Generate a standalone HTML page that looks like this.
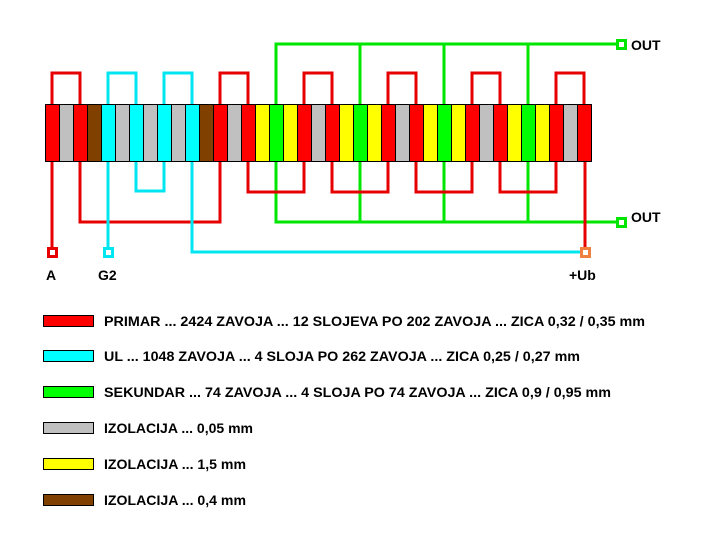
<!DOCTYPE html>
<html><head><style>body{margin:0;background:#fff}svg{display:block}</style></head><body>
<svg width="720" height="550" xmlns="http://www.w3.org/2000/svg" font-family="Liberation Sans, Arial, sans-serif">
<g fill="none" stroke-width="3">
<g stroke="#00e600">
<polyline points="276,104 276,44 618,44"/>
<line x1="360" y1="44" x2="360" y2="104"/><line x1="444" y1="44" x2="444" y2="104"/><line x1="528" y1="44" x2="528" y2="104"/>
<polyline points="276,162 276,222 618,222"/>
<line x1="360" y1="162" x2="360" y2="222"/><line x1="444" y1="162" x2="444" y2="222"/><line x1="528" y1="162" x2="528" y2="222"/>
</g>
<g stroke="#e60000">
<polyline points="52,104 52,73 80,73 80,104"/>
<polyline points="220,104 220,73 248,73 248,104"/>
<polyline points="304,104 304,73 332,73 332,104"/>
<polyline points="388,104 388,73 416,73 416,104"/>
<polyline points="472,104 472,73 500,73 500,104"/>
<polyline points="556,104 556,73 584,73 584,104"/>
<polyline points="248,162 248,192 304,192 304,162"/>
<polyline points="332,162 332,192 388,192 388,162"/>
<polyline points="416,162 416,192 472,192 472,162"/>
<polyline points="500,162 500,192 556,192 556,162"/>
<polyline points="80,162 80,222 220,222 220,162"/>
<line x1="52" y1="162" x2="52" y2="248"/>
<line x1="585" y1="162" x2="585" y2="248"/>
</g>
<g stroke="#00e6f0">
<polyline points="108,104 108,73 136,73 136,104"/>
<polyline points="164,104 164,73 192,73 192,104"/>
<polyline points="136,162 136,191 164,191 164,162"/>
<polyline points="192,162 192,252 582,252"/>
<line x1="108" y1="162" x2="108" y2="248"/>
</g>
<rect x="48.5" y="248.5" width="8" height="8" stroke="#e60000"/>
<rect x="104.5" y="248.5" width="8" height="8" stroke="#00e6f0"/>
<rect x="581.5" y="248.5" width="8" height="8" stroke="#f08040"/>
<rect x="617.5" y="40.5" width="8" height="8" stroke="#00e600"/>
<rect x="617.5" y="218.5" width="8" height="8" stroke="#00e600"/>
</g>
<g stroke="#000" stroke-width="1">
<rect x="45.5" y="104.5" width="14" height="57" fill="#ff0000"/>
<rect x="59.5" y="104.5" width="14" height="57" fill="#c0c0c0"/>
<rect x="73.5" y="104.5" width="14" height="57" fill="#ff0000"/>
<rect x="87.5" y="104.5" width="14" height="57" fill="#804000"/>
<rect x="101.5" y="104.5" width="14" height="57" fill="#00ffff"/>
<rect x="115.5" y="104.5" width="14" height="57" fill="#c0c0c0"/>
<rect x="129.5" y="104.5" width="14" height="57" fill="#00ffff"/>
<rect x="143.5" y="104.5" width="14" height="57" fill="#c0c0c0"/>
<rect x="157.5" y="104.5" width="14" height="57" fill="#00ffff"/>
<rect x="171.5" y="104.5" width="14" height="57" fill="#c0c0c0"/>
<rect x="185.5" y="104.5" width="14" height="57" fill="#00ffff"/>
<rect x="199.5" y="104.5" width="14" height="57" fill="#804000"/>
<rect x="213.5" y="104.5" width="14" height="57" fill="#ff0000"/>
<rect x="227.5" y="104.5" width="14" height="57" fill="#c0c0c0"/>
<rect x="241.5" y="104.5" width="14" height="57" fill="#ff0000"/>
<g id="grp">
<rect x="255.5" y="104.5" width="14" height="57" fill="#ffff00"/>
<rect x="269.5" y="104.5" width="14" height="57" fill="#00ff00"/>
<rect x="283.5" y="104.5" width="14" height="57" fill="#ffff00"/>
<rect x="297.5" y="104.5" width="14" height="57" fill="#ff0000"/>
<rect x="311.5" y="104.5" width="14" height="57" fill="#c0c0c0"/>
<rect x="325.5" y="104.5" width="14" height="57" fill="#ff0000"/>
</g>
<use href="#grp" x="84"/><use href="#grp" x="168"/><use href="#grp" x="252"/>
</g>
<g font-size="14" fill="#000" font-weight="bold">
<text x="46" y="280">A</text><text x="98" y="280">G2</text><text x="569" y="280">+Ub</text>
<text x="631" y="50">OUT</text><text x="631" y="222">OUT</text>
</g>
<g stroke="#000" stroke-width="1">
<rect x="43.5" y="315.5" width="50" height="11" fill="#ff0000"/>
<rect x="43.5" y="350.5" width="50" height="11" fill="#00ffff"/>
<rect x="43.5" y="386.5" width="50" height="11" fill="#00ff00"/>
<rect x="43.5" y="422.5" width="50" height="11" fill="#c0c0c0"/>
<rect x="43.5" y="458.5" width="50" height="11" fill="#ffff00"/>
<rect x="43.5" y="494.5" width="50" height="11" fill="#804000"/>
</g>
<g font-size="13.5" fill="#000" font-weight="bold" lengthAdjust="spacingAndGlyphs">
<text x="104" y="326" textLength="541" lengthAdjust="spacingAndGlyphs">PRIMAR ... 2424 ZAVOJA ... 12 SLOJEVA PO 202 ZAVOJA ... ZICA 0,32 / 0,35 mm</text>
<text x="104" y="361" textLength="476" lengthAdjust="spacingAndGlyphs">UL ... 1048 ZAVOJA ... 4 SLOJA PO 262 ZAVOJA ... ZICA 0,25 / 0,27 mm</text>
<text x="104" y="397" textLength="507" lengthAdjust="spacingAndGlyphs">SEKUNDAR ... 74 ZAVOJA ... 4 SLOJA PO 74 ZAVOJA ... ZICA 0,9 / 0,95 mm</text>
<text x="104" y="433" textLength="149" lengthAdjust="spacingAndGlyphs">IZOLACIJA ... 0,05 mm</text>
<text x="104" y="469" textLength="142" lengthAdjust="spacingAndGlyphs">IZOLACIJA ... 1,5 mm</text>
<text x="104" y="505" textLength="142" lengthAdjust="spacingAndGlyphs">IZOLACIJA ... 0,4 mm</text>
</g>
</svg>
</body></html>
